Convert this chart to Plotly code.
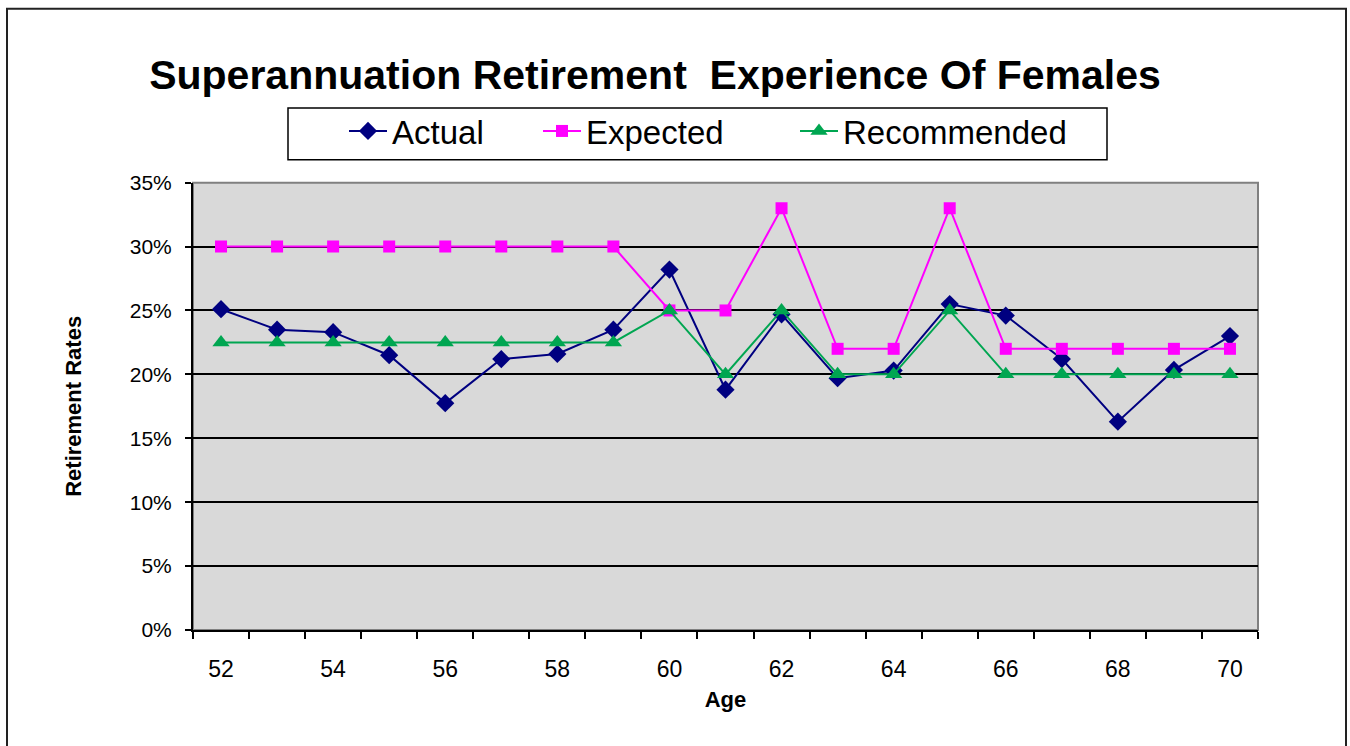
import plotly.graph_objects as go

ages = list(range(52, 71))
actual = [25.1, 23.5, 23.3, 21.5, 17.75, 21.2, 21.6, 23.5, 28.2, 18.8, 24.7, 19.7, 20.3, 25.5, 24.6, 21.2, 16.3, 20.35, 23.0]
expected = [30, 30, 30, 30, 30, 30, 30, 30, 25, 25, 33, 22, 22, 33, 22, 22, 22, 22, 22]
recommended = [22.5, 22.5, 22.5, 22.5, 22.5, 22.5, 22.5, 22.5, 25, 20, 25, 20, 20, 25, 20, 20, 20, 20, 20]
x_labels = [52, 54, 56, 58, 60, 62, 64, 66, 68, 70]
y_ticks = [0, 5, 10, 15, 20, 25, 30, 35]

FONT = "Liberation Sans, Arial, sans-serif"
W, H = 1350, 746
L, R, T, B = 193, 92, 180, 116
PW, PH = W - L - R, H - T - B


def px_x(p):
    return (p - L) / PW


def px_y(p):
    return (H - B - p) / PH


fig = go.Figure()
fig.add_trace(go.Scatter(x=ages, y=[v / 100 for v in actual], name="Actual", mode="lines+markers",
                         line=dict(color="#000080", width=2),
                         marker=dict(symbol="diamond", size=14, color="#000080"),
                         legend="legend"))
fig.add_trace(go.Scatter(x=ages, y=[v / 100 for v in expected], name="Expected", mode="lines+markers",
                         line=dict(color="#FF00FF", width=2),
                         marker=dict(symbol="square", size=12, color="#FF00FF"),
                         legend="legend2"))
fig.add_trace(go.Scatter(x=ages, y=[v / 100 for v in recommended], name="Recommended", mode="lines+markers",
                         line=dict(color="#00A651", width=2),
                         marker=dict(symbol="triangle-up", size=15, color="#00A651"),
                         legend="legend3"))

leg_common = dict(orientation="h", xref="container", yref="container", xanchor="left", yanchor="middle",
                  y=1 - 131 / H, font=dict(size=33, family=FONT, color="black"),
                  borderwidth=0, bgcolor="rgba(0,0,0,0)", itemwidth=38)

fig.update_layout(
    width=W, height=H,
    margin=dict(l=L, r=R, t=T, b=B),
    paper_bgcolor="white", plot_bgcolor="#D9D9D9",
    font=dict(family=FONT, color="black"),
    title=dict(text="<b>Superannuation Retirement  Experience Of Females</b>",
               x=655 / W, xanchor="center", y=1 - 75 / H, yanchor="middle",
               font=dict(size=41, family=FONT, color="black")),
    legend=dict(x=344 / W, **leg_common),
    legend2=dict(x=538 / W, **leg_common),
    legend3=dict(x=795 / W, **leg_common),
    showlegend=True,
)

fig.update_xaxes(range=[51.5, 70.5], tickvals=x_labels, ticktext=[str(v) for v in x_labels],
                 ticks="", showgrid=False, zeroline=False,
                 showline=True, linecolor="black", linewidth=2,
                 tickfont=dict(size=23, family=FONT, color="black"),
                 ticklabelstandoff=17,
                 minor=dict(tickvals=[a + 0.5 for a in range(51, 71)], ticks="outside",
                            ticklen=7, tickcolor="black", tickwidth=1.5, showgrid=False),
                 title=dict(text="<b>Age</b>", font=dict(size=22, family=FONT, color="black"), standoff=11))
fig.update_yaxes(range=[0, 0.35], tickvals=[v / 100 for v in y_ticks], ticktext=[f"{v}%" for v in y_ticks],
                 ticks="outside", ticklen=6, tickcolor="black", tickwidth=1.5,
                 showgrid=True, gridcolor="black", gridwidth=2, zeroline=False,
                 showline=True, linecolor="black", linewidth=2,
                 tickfont=dict(size=21, family=FONT, color="black"),
                 ticklabelstandoff=9,
                 title=dict(text="<b>Retirement Rates</b>", font=dict(size=22, family=FONT, color="black"), standoff=42))

# plot area gray border (top/right)
fig.add_shape(type="rect", xref="paper", yref="paper", x0=0, x1=1, y0=0, y1=1,
              line=dict(color="#808080", width=2), fillcolor="rgba(0,0,0,0)", layer="below")
# legend box
fig.add_shape(type="rect", xref="paper", yref="paper",
              x0=px_x(288), x1=px_x(1107), y0=px_y(157), y1=px_y(105),
              line=dict(color="black", width=1.5), fillcolor="white", layer="below")
# outer chart frame
fig.add_shape(type="rect", xref="paper", yref="paper",
              x0=px_x(7), x1=px_x(1346), y0=px_y(760), y1=px_y(5),
              line=dict(color="#222222", width=2), fillcolor="rgba(0,0,0,0)")

fig.write_html("out.html", config={"displayModeBar": False},
               post_script="document.body.style.margin='0';document.body.style.overflow='hidden';")
